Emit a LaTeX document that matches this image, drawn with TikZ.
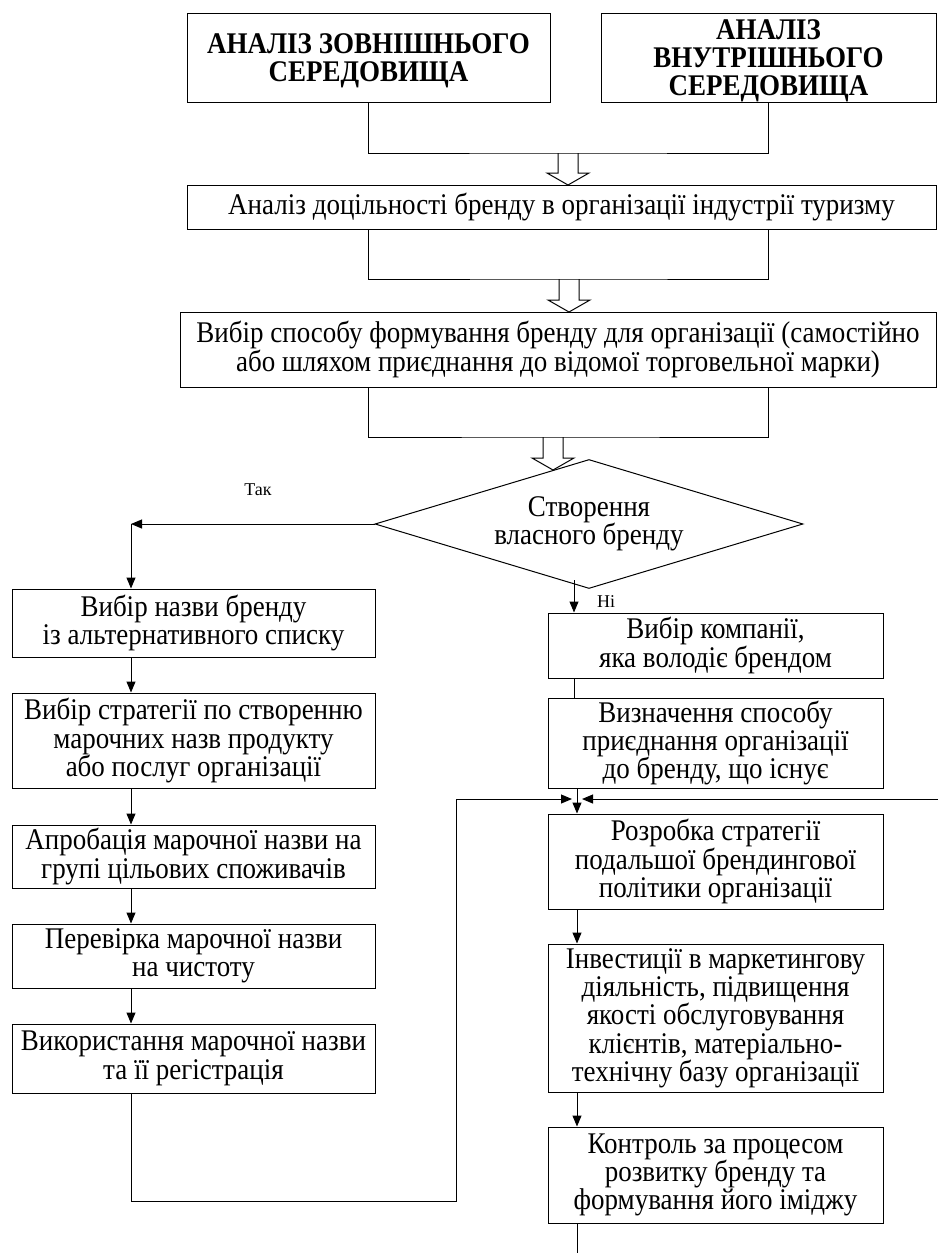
\documentclass[tikz,border=0pt]{standalone}
\usepackage{fontspec}
\setmainfont{Liberation Serif}
\newfontfamily\narrowserif{Liberation Serif}[FakeStretch=0.9]
\usetikzlibrary{shapes.geometric,arrows.meta,positioning,calc}
\tikzstyle{block} = [draw, rectangle, line width=1pt, inner sep=0pt, align=center,
    font=\narrowserif\fontsize{30}{28.3}\selectfont]
\tikzstyle{headbox} = [draw, rectangle, line width=1pt, inner sep=0pt, align=center,
    font=\narrowserif\bfseries\fontsize{30}{28}\selectfont, text depth=-6pt]
\tikzstyle{decision} = [draw, diamond, line width=1pt, inner sep=0pt, aspect=3.3,
    align=center, font=\narrowserif\fontsize{30}{28.3}\selectfont]
\tikzstyle{answer} = [font=\fontsize{18}{20}\selectfont]
\tikzstyle{wire} = [line width=1pt]
\tikzstyle{fat} = [line width=1pt]
\tikzstyle{connector} = [-{Triangle[length=11pt,width=9pt]}, line width=1pt]
\newcommand{\fatarrow}[2]{\draw[fat] ($(#1)+(-10,0)$) -- ++(0,#2-12) -- ++(-11,0)
    -- ++(21,12) -- ++(21,-12) -- ++(-11,0) -- ++(0,12-#2);}

\begin{document}
\begin{tikzpicture}[x=1pt,y=-1pt]
	\useasboundingbox (0,0) rectangle (938,1253);
	% analysis part
	\node[headbox, minimum width=363, minimum height=89] (ext) at (368.5,57.5)
		{АНАЛІЗ ЗОВНІШНЬОГО\\СЕРЕДОВИЩА};
	\node[headbox, minimum width=335, minimum height=89] (int) at (768.5,57.5)
		{АНАЛІЗ\\ВНУТРІШНЬОГО\\СЕРЕДОВИЩА};
	\node[block, minimum width=749, minimum height=44] (expedience) at (561.5,207)
		{Аналіз доцільності бренду в організації індустрії туризму};
	\node[block, minimum width=756, minimum height=75] (way) at (558,349.5)
		{Вибір способу формування бренду для організації (самостійно\\або шляхом приєднання до відомої торговельної марки)};
	\node[decision, minimum width=428, minimum height=129] (own) at (589,524)
		{Створення\\власного бренду};
	\node[answer] (yes label) at (258,490) {Так};
	\node[answer] (no label) at (606,602) {Ні};

	% own brand
	\node[block, minimum width=363, minimum height=68] (name) at (193.5,623)
		{Вибір назви бренду\\із альтернативного списку};
	\node[block, minimum width=363, minimum height=95, below=35pt of name] (strategy)
		{Вибір стратегії по створенню\\марочних назв продукту\\або послуг організації};
	\node[block, minimum width=363, minimum height=63, below=36pt of strategy] (testing)
		{Апробація марочної назви на\\групі цільових споживачів};
	\node[block, minimum width=363, minimum height=64, below=35pt of testing] (check)
		{Перевірка марочної назви\\на чистоту};
	\node[block, minimum width=363, minimum height=69, below=35pt of check] (register)
		{Використання марочної назви\\та її регістрація};

	% existing brand
	\node[block, minimum width=335, minimum height=65] (company) at (715.5,645.5)
		{Вибір компанії,\\яка володіє брендом};
	\node[block, minimum width=335, minimum height=90, below=19pt of company] (joining)
		{Визначення способу\\приєднання організації\\до бренду, що існує};
	\node[block, minimum width=335, minimum height=95, below=25pt of joining] (policy)
		{Розробка стратегії\\подальшої брендингової\\політики організації};
	\node[block, minimum width=335, minimum height=148, below=34pt of policy] (invest)
		{Інвестиції в маркетингову\\діяльність, підвищення\\якості обслуговування\\клієнтів, матеріально-\\технічну базу організації};
	\node[block, minimum width=335, minimum height=96, below=34pt of invest] (control)
		{Контроль за процесом\\розвитку бренду та\\формування його іміджу};

	\coordinate (j1) at (568,153);
	\coordinate (j2) at (569,279);
	\coordinate (j3) at (553,437);
	\coordinate (yes) at (131,524);
	\coordinate (no) at (574,580);
	\coordinate (loop) at (456,1201);
	\coordinate (merge) at (577,799);
	\coordinate (back) at (938,799);
	\coordinate (exit) at (577,1253);

	\draw[wire] (ext.south) |- (j1) -| (int.south);
	\fatarrow{j1}{32}
	\draw[wire] (expedience.south -| ext.south) |- (j2) -| (expedience.south -| int.south);
	\fatarrow{j2}{33}
	\draw[wire] (way.south -| ext.south) |- (j3) -| (way.south -| int.south);
	\fatarrow{j3}{33}

	\draw[connector] (own.west) -- (yes);
	\draw[connector] (yes) -- (name.north -| yes);
	\draw[connector] (name.south -| yes) -- (strategy.north -| yes);
	\draw[connector] (strategy.south -| yes) -- (testing.north -| yes);
	\draw[connector] (testing.south -| yes) -- (check.north -| yes);
	\draw[connector] (check.south -| yes) -- (register.north -| yes);
	\draw[connector] (register.south -| yes) |- (loop) |- ($(merge)+(-5,0)$);

	\draw[connector] (no) -- (company.north -| no);
	\draw[wire] (company.south -| no) -- (joining.north -| no);
	\draw[connector] (joining.south -| merge) -- (policy.north -| merge);
	\draw[connector] (back) -- ($(merge)+(5,0)$);
	\draw[connector] (policy.south -| merge) -- (invest.north -| merge);
	\draw[connector] (invest.south -| merge) -- (control.north -| merge);
	\draw[wire] (control.south -| merge) -- (exit);
\end{tikzpicture}
\end{document}
